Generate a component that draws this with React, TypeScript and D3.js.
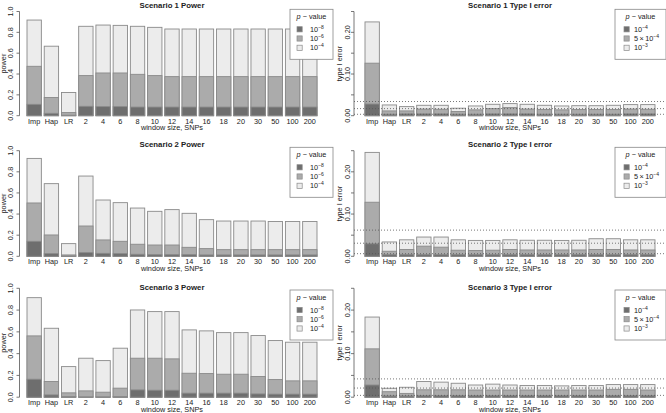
import React from "react";
import * as d3 from "d3";

const CATEGORIES = ["Imp", "Hap", "LR", "2", "4", "6", "8", "10", "12", "14", "16", "18", "20", "30", "50", "100", "200"];
const SCENARIOS = ["Scenario 1", "Scenario 2", "Scenario 3"];

// Power: p < 1e-4 (light), 1e-6 (medium), 1e-8 (dark)
const power1Light = [0.918, 0.667, 0.223, 0.858, 0.870, 0.867, 0.858, 0.848, 0.832, 0.832, 0.832, 0.832, 0.832, 0.832, 0.832, 0.832, 0.832];
const power1Med = [0.474, 0.175, 0.030, 0.385, 0.410, 0.410, 0.397, 0.385, 0.375, 0.375, 0.375, 0.375, 0.375, 0.375, 0.375, 0.375, 0.375];
const power1Dark = [0.109, 0.023, 0.005, 0.090, 0.087, 0.087, 0.083, 0.083, 0.083, 0.083, 0.083, 0.083, 0.083, 0.083, 0.083, 0.083, 0.083];

const power2Light = [0.927, 0.688, 0.120, 0.760, 0.533, 0.508, 0.457, 0.426, 0.442, 0.407, 0.347, 0.334, 0.334, 0.334, 0.330, 0.330, 0.330];
const power2Med = [0.505, 0.202, 0.013, 0.287, 0.155, 0.142, 0.114, 0.107, 0.107, 0.085, 0.073, 0.063, 0.063, 0.063, 0.063, 0.063, 0.063];
const power2Dark = [0.142, 0.025, 0.003, 0.035, 0.028, 0.025, 0.019, 0.016, 0.016, 0.016, 0.013, 0.013, 0.013, 0.013, 0.013, 0.013, 0.013];

const power3Light = [0.914, 0.633, 0.281, 0.358, 0.336, 0.450, 0.801, 0.786, 0.786, 0.618, 0.609, 0.593, 0.593, 0.566, 0.520, 0.505, 0.505];
const power3Med = [0.563, 0.144, 0.040, 0.058, 0.046, 0.083, 0.358, 0.358, 0.352, 0.220, 0.217, 0.211, 0.211, 0.190, 0.162, 0.150, 0.150];
const power3Dark = [0.165, 0.021, 0.006, 0.003, 0.003, 0.006, 0.067, 0.064, 0.064, 0.037, 0.037, 0.037, 0.037, 0.030, 0.028, 0.028, 0.028];

// Type I error: p < 1e-3 (light), 5e-4 (medium), 1e-4 (dark)
const type1Light = [0.225, 0.0258, 0.0218, 0.025, 0.025, 0.018, 0.0234, 0.0274, 0.029, 0.0274, 0.025, 0.0234, 0.024, 0.024, 0.025, 0.0266, 0.0266];
const type1Med = [0.126, 0.0115, 0.0115, 0.016, 0.0155, 0.010, 0.014, 0.017, 0.0194, 0.016, 0.0147, 0.014, 0.0147, 0.0147, 0.0147, 0.016, 0.0155];
const type1Dark = [0.028, 0.0036, 0.0044, 0.0044, 0.0044, 0.0036, 0.0036, 0.0044, 0.0044, 0.0044, 0.0036, 0.0036, 0.0036, 0.0036, 0.0036, 0.0044, 0.0044];

const type2Light = [0.246, 0.034, 0.039, 0.0456, 0.0456, 0.039, 0.0376, 0.0376, 0.039, 0.038, 0.038, 0.0376, 0.038, 0.0416, 0.0416, 0.039, 0.039];
const type2Med = [0.128, 0.012, 0.016, 0.024, 0.0216, 0.0144, 0.0136, 0.0144, 0.016, 0.015, 0.015, 0.015, 0.015, 0.016, 0.016, 0.015, 0.015];
const type2Dark = [0.0296, 0.004, 0.0045, 0.004, 0.004, 0.004, 0.004, 0.004, 0.004, 0.004, 0.004, 0.004, 0.004, 0.004, 0.004, 0.004, 0.004];

const type3Light = [0.184, 0.0205, 0.0228, 0.036, 0.0346, 0.032, 0.028, 0.030, 0.028, 0.027, 0.027, 0.026, 0.027, 0.027, 0.029, 0.029, 0.029];
const type3Med = [0.111, 0.0126, 0.0087, 0.017, 0.017, 0.017, 0.0165, 0.0165, 0.0165, 0.0165, 0.0165, 0.0165, 0.0165, 0.0165, 0.018, 0.018, 0.0165];
const type3Dark = [0.028, 0.003, 0.003, 0.004, 0.004, 0.004, 0.004, 0.004, 0.004, 0.004, 0.004, 0.004, 0.004, 0.004, 0.004, 0.004, 0.004];

// reference (dotted) lines on type I error panels
const typeRefLines = [
  [0.034, 0.017, 0.0034],
  [0.062, 0.031, 0.0062],
  [0.042, 0.021, 0.0042],
];

const POWER_TICKS = [0, 0.2, 0.4, 0.6, 0.8, 1.0];
const POWER_TICK_LABELS = ["0.0", "0.2", "0.4", "0.6", "0.8", "1.0"];
const TYPE_TICKS = [0, 0.05, 0.1, 0.15, 0.2, 0.25];
const TYPE_TICK_LABELS = ["0.00", "", "0.10", "", "0.20", ""];

// legend levels, order: dark, medium, light
const POWER_LEVELS = [["10", "−8"], ["10", "−6"], ["10", "−4"]];
const TYPE_LEVELS = [["10", "−4"], ["5\u2009×\u200910", "−4"], ["10", "−3"]];

// ---- layout ----
const ROW_Y0 = [115.7, 256.3, 397.2];
const ROW_YTOP = [11.5, 150.7, 288.3];
const ROW_TITLE_Y = [7.5, 147, 290];
const ROW_LEGEND_TOP = [9.3, 147.3, 290];

const SIDES = {
  left: { axisX: 19.5, labelX: 10.5, ylabX: 4.2, bar: [27, 317], lg: [290, 333], swX: 297, txX: 310 },
  right: { axisX: 354, labelX: 347.5, ylabX: 340, bar: [365, 655], lg: [615, 666], swX: 624, txX: 634 },
};

const FILLS = ["#6e6e6e", "#ababab", "#ececec"];
const BAR_STROKE = "#8a8a8a";
const TEXT = "#222";
const FONT = "'Liberation Sans', Arial, Helvetica, sans-serif";

type PanelProps = {
  side: "left" | "right";
  row: number;
  title: string;
  ylab: string;
  series: number[][]; // [dark, med, light]
  yMax: number;
  ticks: number[];
  tickLabels: string[];
  levels: string[][];
  refLines?: number[];
};

function Panel({ side, row, title, ylab, series, yMax, ticks, tickLabels, levels, refLines }: PanelProps) {
  const S = SIDES[side];
  const x = d3.scaleBand<string>().domain(CATEGORIES).range(S.bar as [number, number]).paddingInner(1 / 6).paddingOuter(0);
  const y = d3.scaleLinear().domain([0, yMax]).range([ROW_Y0[row], ROW_YTOP[row]]);
  const bw = x.bandwidth();
  const drawOrder = [2, 1, 0];
  const cx = (S.bar[0] + S.bar[1]) / 2;
  const yMid = (y(0) + y(yMax)) / 2;
  const lgTop = ROW_LEGEND_TOP[row];
  const lgW = S.lg[1] - S.lg[0];
  const entryOffsets = [20, 29.2, 38.5];
  return (
    <g>
      {drawOrder.map((si) => (
        <g key={si}>
          {CATEGORIES.map((c, i) => (
            <rect
              key={c}
              x={x(c)}
              y={y(series[si][i])}
              width={bw}
              height={y(0) - y(series[si][i])}
              fill={FILLS[si]}
              stroke={BAR_STROKE}
              strokeWidth={0.9}
            />
          ))}
        </g>
      ))}
      {refLines &&
        refLines.map((v, i) => (
          <line key={i} x1={S.axisX} x2={666} y1={y(v)} y2={y(v)} stroke="#555" strokeWidth={0.8} strokeDasharray="1 2" />
        ))}
      {/* y axis */}
      <line x1={S.axisX} x2={S.axisX} y1={y(ticks[0])} y2={y(ticks[ticks.length - 1])} stroke="#555" strokeWidth={0.8} />
      {ticks.map((t, i) => (
        <g key={i}>
          <line x1={S.axisX - 3} x2={S.axisX} y1={y(t)} y2={y(t)} stroke="#555" strokeWidth={0.8} />
          {tickLabels[i] && (
            <text
              transform={`translate(${S.labelX},${y(t)}) rotate(-90)`}
              textAnchor="middle"
              dy="0.35em"
              fontSize={7.3}
              fill={TEXT}
            >
              {tickLabels[i]}
            </text>
          )}
        </g>
      ))}
      <text transform={`translate(${S.ylabX},${yMid}) rotate(-90)`} textAnchor="middle" dy="0.3em" fontSize={7.3} fill={TEXT}>
        {ylab}
      </text>
      {/* x labels */}
      {CATEGORIES.map((c) => (
        <text key={c} x={(x(c) as number) + bw / 2} y={y(0) + 8} textAnchor="middle" fontSize={7.3} fill={TEXT}>
          {c}
        </text>
      ))}
      <text x={cx} y={y(0) + 14.5} textAnchor="middle" fontSize={7.3} fill={TEXT}>
        window size, SNPs
      </text>
      {/* title */}
      <text x={cx} y={ROW_TITLE_Y[row]} textAnchor="middle" fontSize={7.8} fontWeight="bold" fill={TEXT}>
        {title}
      </text>
      {/* legend */}
      <rect x={S.lg[0]} y={lgTop} width={lgW} height={50} fill="#fff" stroke="#888" strokeWidth={0.8} />
      <text x={S.lg[0] + lgW / 2} y={lgTop + 7} dy="0.35em" textAnchor="middle" fontSize={7.3} fill={TEXT}>
        <tspan fontStyle="italic">p</tspan>
        <tspan> − value</tspan>
      </text>
      {levels.map((lv, i) => (
        <g key={i}>
          <rect
            x={S.swX}
            y={lgTop + entryOffsets[i] - 2.6}
            width={5.2}
            height={5.2}
            fill={FILLS[i]}
            stroke={BAR_STROKE}
            strokeWidth={0.7}
          />
          <text x={S.txX} y={lgTop + entryOffsets[i] + 2.6} fontSize={7.3} fill={TEXT}>
            {lv[0]}
            <tspan dy={-3} fontSize={5}>
              {lv[1]}
            </tspan>
          </text>
        </g>
      ))}
    </g>
  );
}

const powerSeries = [
  [power1Dark, power1Med, power1Light],
  [power2Dark, power2Med, power2Light],
  [power3Dark, power3Med, power3Light],
];
const typeSeries = [
  [type1Dark, type1Med, type1Light],
  [type2Dark, type2Med, type2Light],
  [type3Dark, type3Med, type3Light],
];

export default function App() {
  React.useEffect(() => {
    document.body.style.margin = "0";
  }, []);
  return (
    <svg
      width={666}
      height={413}
      viewBox="0 0 666 413"
      style={{ position: "absolute", left: 0, top: 0, background: "#fff", fontFamily: FONT }}
    >
      <rect x={0} y={0} width={666} height={413} fill="#fff" />
      {SCENARIOS.map((s, r) => (
        <g key={s}>
          <Panel
            side="left"
            row={r}
            title={`${s} Power`}
            ylab="power"
            series={powerSeries[r]}
            yMax={1}
            ticks={POWER_TICKS}
            tickLabels={POWER_TICK_LABELS}
            levels={POWER_LEVELS}
          />
          <Panel
            side="right"
            row={r}
            title={`${s} Type I error`}
            ylab="type I error"
            series={typeSeries[r]}
            yMax={0.25}
            ticks={TYPE_TICKS}
            tickLabels={TYPE_TICK_LABELS}
            levels={TYPE_LEVELS}
            refLines={typeRefLines[r]}
          />
        </g>
      ))}
    </svg>
  );
}
